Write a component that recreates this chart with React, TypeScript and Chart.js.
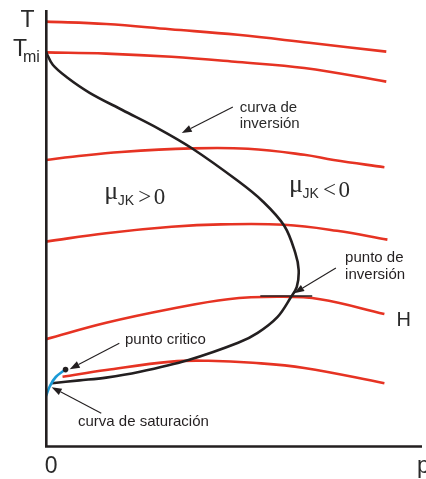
import React, { useEffect, useRef } from "react";
import { Chart, registerables } from "chart.js";

Chart.register(...registerables);

type Pt = [number, number];

// Isenthalps (constant H), pressure p vs temperature T, arbitrary units
const isenthalp1: Pt[] = [[0, 10.61], [1.6, 10.55], [3.3, 10.42], [5.1, 10.28], [7.0, 10.08], [9.05, 9.86]];
const isenthalp2: Pt[] = [[0, 9.84], [1.6, 9.81], [3.34, 9.73], [5.1, 9.6], [6.87, 9.45], [9.05, 9.11]];
const isenthalp3: Pt[] = [[0, 7.15], [0.71, 7.23], [2.0, 7.35], [3.87, 7.44], [5.37, 7.43], [6.87, 7.28], [7.65, 7.15], [9.0, 6.97]];
const isenthalp4: Pt[] = [[0, 5.11], [1.6, 5.32], [3.34, 5.48], [4.66, 5.54], [6.34, 5.53], [7.74, 5.38], [9.08, 5.16]];
const isenthalp5: Pt[] = [[0, 2.67], [1.6, 3.08], [3.34, 3.43], [4.84, 3.67], [6.16, 3.73], [7.29, 3.67], [9.0, 3.3]];
const isenthalp6: Pt[] = [[0.44, 1.73], [1.6, 1.9], [3.34, 2.11], [4.32, 2.13], [5.5, 2.08], [6.87, 1.95], [9.0, 1.57]];

// Inversion curve, from T_mi on the axis down to the saturation curve
const inversionCurve: Pt[] = [
  [0, 9.85], [0.18, 9.53], [0.545, 9.225], [1.16, 8.83], [2.03, 8.4], [3.0, 7.93],
  [3.87, 7.45], [5.1, 6.63], [5.76, 6.12], [6.34, 5.5], [6.63, 4.83], [6.72, 4.4],
  [6.67, 3.98], [6.5, 3.7], [6.16, 3.23], [5.63, 2.83], [5.11, 2.58], [3.79, 2.15],
  [2.47, 1.85], [1.6, 1.71], [0.89, 1.64], [0.16, 1.57],
];

// Liquid–vapour saturation curve ending at the critical point
const saturationCurve: Pt[] = [[0, 1.25], [0.105, 1.5], [0.26, 1.725], [0.51, 1.91]];
const criticalPoint: Pt[] = [[0.52, 1.91]];

// Inversion temperature at p = 0 and the maximum inversion point tangent
const T_MI = 9.84;
const inversionTangentP: [number, number] = [5.7, 7.08];
const inversionTangentT = 3.75;

const P_MAX = 10;
const T_MAX = 11;

const RED = "#e63323";
const BLACK = "#231f20";
const BLUE = "#1b9ad6";
const TEXT = "#2a2a2a";
const SANS = "'Liberation Sans', Arial, sans-serif";
const SERIF = "'Liberation Serif', 'Times New Roman', serif";

// Callout texts with their anchor (p, T) and arrow (from -> tip) in data units
const callouts = [
  { lines: ["curva de", "inversión"], at: [5.15, 8.36], lh: 16, arrow: [[4.97, 8.475], [3.61, 7.825]] },
  { lines: ["punto de", "inversión"], at: [7.955, 4.6], lh: 17, arrow: [[7.71, 4.45], [6.6, 3.82]] },
  { lines: ["punto critico"], at: [2.1, 2.55], lh: 16, arrow: [[1.95, 2.57], [0.63, 1.92]] },
  { lines: ["curva de saturación"], at: [0.85, 0.5], lh: 16, arrow: [[1.47, 0.82], [0.15, 1.47]] },
];

const muLabels = [
  { sign: ">", at: [1.55, 6.05] },
  { sign: "<", at: [6.46, 6.225] },
];

const toXY = (pts: Pt[]) => pts.map(([x, y]) => ({ x, y }));

function arrow(ctx: CanvasRenderingContext2D, x1: number, y1: number, x2: number, y2: number) {
  const ang = Math.atan2(y2 - y1, x2 - x1);
  const len = 10;
  const half = 3.6;
  const bx = x2 - len * Math.cos(ang);
  const by = y2 - len * Math.sin(ang);
  ctx.beginPath();
  ctx.moveTo(x1, y1);
  ctx.lineTo(bx, by);
  ctx.lineWidth = 1.1;
  ctx.strokeStyle = BLACK;
  ctx.stroke();
  ctx.beginPath();
  ctx.moveTo(x2, y2);
  ctx.lineTo(bx + half * Math.sin(ang), by - half * Math.cos(ang));
  ctx.lineTo(bx - half * Math.sin(ang), by + half * Math.cos(ang));
  ctx.closePath();
  ctx.fillStyle = BLACK;
  ctx.fill();
}

const diagramPlugin = {
  id: "jtDiagram",
  afterDatasetsDraw(chart: any) {
    const { ctx, chartArea, scales } = chart;
    const X = (v: number) => scales.x.getPixelForValue(v);
    const Y = (v: number) => scales.y.getPixelForValue(v);
    ctx.save();

    // axes
    ctx.strokeStyle = BLACK;
    ctx.lineWidth = 2.6;
    ctx.beginPath();
    ctx.moveTo(chartArea.left + 0.3, chartArea.top + 4);
    ctx.lineTo(chartArea.left + 0.3, chartArea.bottom + 1.5);
    ctx.moveTo(chartArea.left - 1, chartArea.bottom + 0.5);
    ctx.lineTo(chartArea.right, chartArea.bottom + 0.5);
    ctx.stroke();

    // horizontal tangent at the maximum inversion point
    ctx.lineWidth = 1.6;
    ctx.beginPath();
    ctx.moveTo(X(inversionTangentP[0]), Y(inversionTangentT));
    ctx.lineTo(X(inversionTangentP[1]), Y(inversionTangentT));
    ctx.stroke();

    // axis labels
    ctx.fillStyle = TEXT;
    ctx.textBaseline = "alphabetic";
    ctx.textAlign = "left";
    ctx.font = `23px ${SANS}`;
    ctx.fillText("T", chartArea.left - 25.5, chartArea.top + 20.7);
    ctx.fillText("T", chartArea.left - 33, Y(T_MI) + 4);
    ctx.font = `16px ${SANS}`;
    ctx.fillText("mi", chartArea.left - 23, Y(T_MI) + 9.5);
    ctx.font = `23px ${SANS}`;
    ctx.fillText("0", chartArea.left - 1.2, chartArea.bottom + 27);
    ctx.fillText("p", chartArea.right - 5, chartArea.bottom + 27);

    // H label on the isenthalps
    ctx.font = `20px ${SANS}`;
    ctx.fillText("H", X(9.32), Y(3.0));

    // callouts
    ctx.font = `15px ${SANS}`;
    for (const c of callouts) {
      c.lines.forEach((t, i) => ctx.fillText(t, X(c.at[0]), Y(c.at[1]) + i * c.lh));
      arrow(ctx, X(c.arrow[0][0]), Y(c.arrow[0][1]), X(c.arrow[1][0]), Y(c.arrow[1][1]));
    }

    // Joule–Kelvin coefficient regions
    for (const m of muLabels) {
      const x = X(m.at[0]);
      const b = Y(m.at[1]);
      ctx.fillStyle = TEXT;
      ctx.font = `26px ${SERIF}`;
      ctx.fillText("μ", x, b - 5);
      ctx.font = `14px ${SANS}`;
      ctx.fillText("JK", x + 13.5, b + 1);
      ctx.font = `23px ${SERIF}`;
      ctx.fillText(m.sign, x + 34, b);
      ctx.fillText("0", x + 49.5, b);
    }

    ctx.restore();
  },
};

export default function App() {
  const canvasRef = useRef<HTMLCanvasElement | null>(null);

  useEffect(() => {
    const canvas = canvasRef.current;
    if (!canvas) return;
    const red = (data: Pt[]) => ({
      data: toXY(data),
      borderColor: RED,
      borderWidth: 2.6,
      tension: 0.4,
      pointRadius: 0,
      fill: false,
      order: 3,
    });
    const chart = new Chart(canvas, {
      type: "line",
      data: {
        datasets: [
          {
            data: toXY(criticalPoint),
            showLine: false,
            pointRadius: 2.8,
            pointBackgroundColor: BLACK,
            pointBorderWidth: 0,
            order: 0,
          },
          {
            data: toXY(saturationCurve),
            borderColor: BLUE,
            borderWidth: 2.6,
            tension: 0.4,
            pointRadius: 0,
            order: 1,
          },
          {
            data: toXY(inversionCurve),
            borderColor: BLACK,
            borderWidth: 2.6,
            tension: 0.35,
            pointRadius: 0,
            order: 2,
          },
          red(isenthalp1),
          red(isenthalp2),
          red(isenthalp3),
          red(isenthalp4),
          red(isenthalp5),
          red(isenthalp6),
        ] as any,
      },
      options: {
        animation: false,
        responsive: false,
        devicePixelRatio: 1,
        parsing: false as any,
        layout: { padding: { left: 46, right: 0, top: 6, bottom: 33 } },
        scales: {
          x: { type: "linear", min: 0, max: P_MAX, display: false },
          y: { type: "linear", min: 0, max: T_MAX, display: false },
        },
        plugins: {
          legend: { display: false },
          tooltip: { enabled: false },
        },
        events: [],
      },
      plugins: [diagramPlugin],
    });
    return () => chart.destroy();
  }, []);

  return (
    <div style={{ position: "absolute", left: 0, top: 0, width: 426, height: 479, background: "#fff" }}>
      <canvas ref={canvasRef} width={426} height={479} style={{ display: "block" }} />
    </div>
  );
}
